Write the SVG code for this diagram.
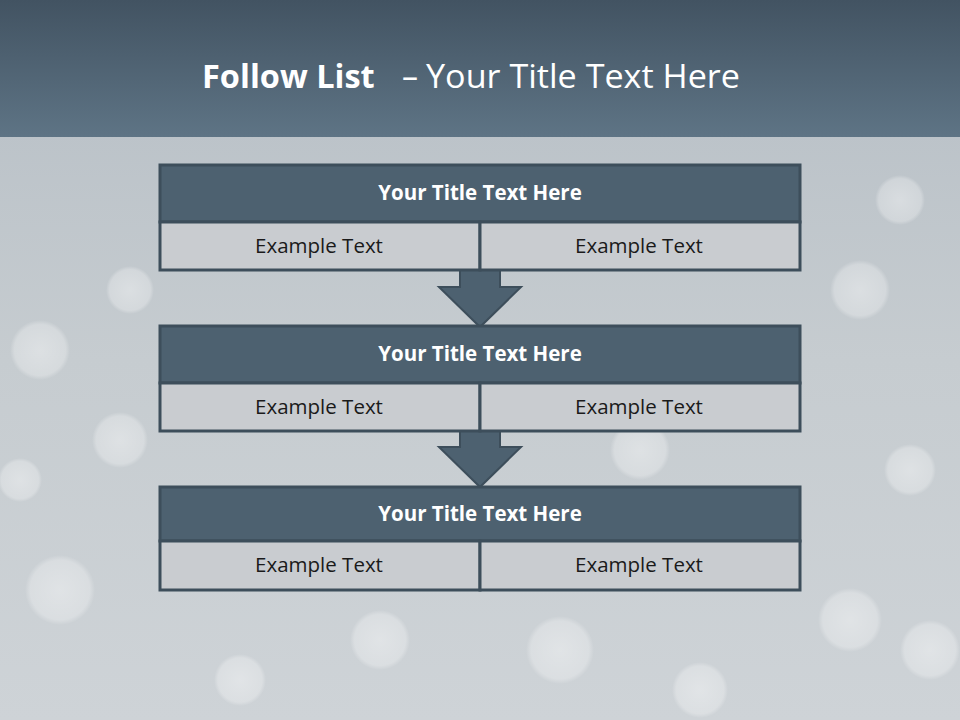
<svg xmlns="http://www.w3.org/2000/svg" width="960" height="720" viewBox="0 0 960 720">
<defs>
<linearGradient id="hdr" x1="0" y1="0" x2="0" y2="1"><stop offset="0" stop-color="#425362"/><stop offset="1" stop-color="#5e7485"/></linearGradient>
<linearGradient id="bg" x1="0" y1="0" x2="0" y2="1"><stop offset="0" stop-color="#b6bec5"/><stop offset="0.5" stop-color="#c6ccd0"/><stop offset="1" stop-color="#ced3d7"/></linearGradient>
<radialGradient id="bk"><stop offset="0" stop-color="#ffffff" stop-opacity="0.4"/><stop offset="0.85" stop-color="#ffffff" stop-opacity="0.28"/><stop offset="1" stop-color="#ffffff" stop-opacity="0"/></radialGradient>
<style>
.tb{fill:#4d6170;stroke:#3d4e5b;stroke-width:3}
.cell{fill:#c9ccd0;stroke:#3d4e5b;stroke-width:3}
.arr{fill:#4d6170;stroke:#3d4e5b;stroke-width:2;stroke-linejoin:miter}
.tt{font-family:"Open Sans","Liberation Sans",sans-serif;font-weight:bold;font-size:20.5px;fill:#ffffff;text-anchor:middle}
.et{font-family:"Open Sans","Liberation Sans",sans-serif;font-size:20.5px;fill:#1a1a1a;text-anchor:middle}
.hd{font-family:"Open Sans","Liberation Sans",sans-serif;fill:#ffffff}
</style>
</defs>
<rect x="0" y="0" width="960" height="720" fill="url(#bg)"/>
<g fill="url(#bk)">
<circle cx="40" cy="350" r="30"/><circle cx="120" cy="440" r="28"/><circle cx="60" cy="590" r="35"/>
<circle cx="860" cy="290" r="30"/><circle cx="910" cy="470" r="26"/><circle cx="850" cy="620" r="32"/>
<circle cx="560" cy="650" r="34"/><circle cx="380" cy="640" r="30"/><circle cx="700" cy="690" r="28"/>
<circle cx="240" cy="680" r="26"/><circle cx="640" cy="450" r="30"/><circle cx="900" cy="200" r="25"/>
<circle cx="130" cy="290" r="24"/><circle cx="930" cy="650" r="30"/><circle cx="20" cy="480" r="22"/>
</g>
<rect x="0" y="0" width="960" height="137" fill="url(#hdr)"/>
<text class="hd" x="202" y="88" font-size="32.5" font-weight="bold">Follow List</text>
<text class="hd" x="402" y="88" font-size="32">–</text>
<text class="hd" x="426" y="88" font-size="33" textLength="314" lengthAdjust="spacingAndGlyphs">Your Title Text Here</text>
<g id="connectors">
<polygon class="arr" points="460,270 500,270 500,287 521,287 480,327 439,287 460,287"/>
<polygon class="arr" points="460,431 500,431 500,447 521,447 480,487 439,447 460,447"/>
</g>
<g id="node1">
<rect class="tb" x="160" y="165" width="640" height="57"/>
<rect class="cell" x="160" y="222" width="320" height="48"/>
<rect class="cell" x="480" y="222" width="320" height="48"/>
<text class="tt" x="480" y="200">Your Title Text Here</text>
<text class="et" x="319" y="253">Example Text</text>
<text class="et" x="639" y="253">Example Text</text>
</g>
<g id="node2">
<rect class="tb" x="160" y="326" width="640" height="57"/>
<rect class="cell" x="160" y="383" width="320" height="48"/>
<rect class="cell" x="480" y="383" width="320" height="48"/>
<text class="tt" x="480" y="361">Your Title Text Here</text>
<text class="et" x="319" y="414">Example Text</text>
<text class="et" x="639" y="414">Example Text</text>
</g>
<g id="node3">
<rect class="tb" x="160" y="487" width="640" height="54"/>
<rect class="cell" x="160" y="541" width="320" height="49"/>
<rect class="cell" x="480" y="541" width="320" height="49"/>
<text class="tt" x="480" y="521">Your Title Text Here</text>
<text class="et" x="319" y="572">Example Text</text>
<text class="et" x="639" y="572">Example Text</text>
</g>
</svg>
